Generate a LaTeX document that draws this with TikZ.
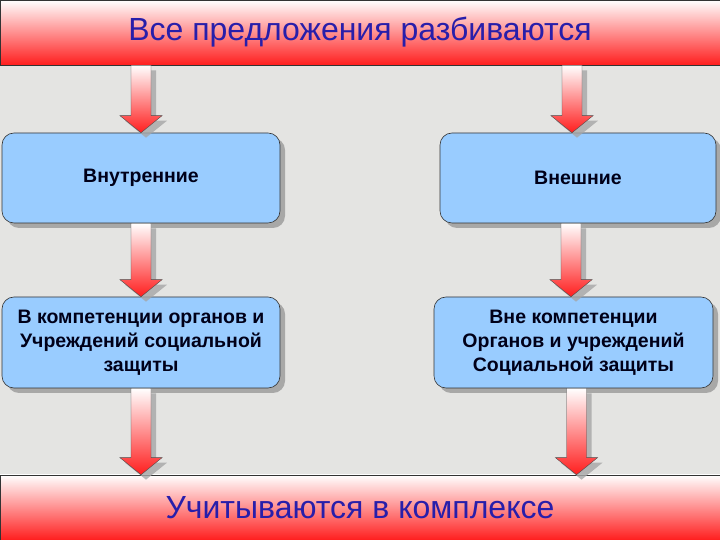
\documentclass[tikz,border=0pt]{standalone}
\usepackage{fontspec}
\setmainfont{Liberation Sans}
\usetikzlibrary{positioning,shadows,calc}

\definecolor{boxblue}{RGB}{153,204,255}
\definecolor{titleblue}{RGB}{40,30,170}
\definecolor{stone}{RGB}{228,228,226}
\definecolor{flame}{RGB}{255,30,30}

\begin{document}
\begin{tikzpicture}[x=1pt,y=1pt]
	\tikzstyle{banner}=[draw=black!80, line width=0.6pt, minimum width=720pt, minimum height=65pt, inner sep=0pt, top color=white, bottom color=flame, text=titleblue, font=\fontsize{32}{36}\selectfont]
	\tikzstyle{block}=[draw=black!80, line width=0.6pt, rounded corners=12pt, fill=boxblue, align=center, inner sep=0pt, text=black!90!blue, font=\bfseries\fontsize{19.5}{24}\selectfont, drop shadow={shadow xshift=5pt, shadow yshift=-5pt, fill=black!40, opacity=0.8}]
	\tikzstyle{flow}=[draw=black!70, line width=0.4pt, top color=white, bottom color=flame, drop shadow={shadow xshift=5pt, shadow yshift=-5pt, fill=black!35, opacity=0.8},
		to path={let \p1=(\tikztostart), \p2=(\tikztotarget) in
			(\x1-10pt,\y1) -- (\x1-10pt,\y2+17pt) -- (\x1-21pt,\y2+17pt) -- (\x1,\y2)
			-- (\x1+21pt,\y2+17pt) -- (\x1+10pt,\y2+17pt) -- (\x1+10pt,\y1) -- cycle}]
	
	\useasboundingbox[fill=stone] (0,0) rectangle (720,540);
	
	\node[banner] (top) at (360,507.5) {Все предложения разбиваются};
	\node[banner] (bottom) at (360,32.5) {Учитываются в комплексе};
	
	\node[block, minimum width=278pt, minimum height=90pt] (in1) at (141,362) {Внутренние};
	\node[block, minimum width=276pt, minimum height=90pt] (ex1) at (578,362) {Внешние};
	\node[block, minimum width=278pt, minimum height=91pt] (in2) at (141,197.5) {В компетенции органов и\\Учреждений социальной\\защиты};
	\node[block, minimum width=279pt, minimum height=91pt] (ex2) at (573.5,197.5) {Вне компетенции\\Органов и учреждений\\Социальной защиты};
	
	% arrows
	\draw[flow] (top.south -| in1.north) to (in1.north);
	\draw[flow] ([xshift=-6pt]top.south -| ex1.north) to (ex1.north);
	\draw[flow] (in1.south) to (in2.north);
	\draw[flow] ([xshift=-7pt]ex1.south) to (ex2.north);
	\draw[flow] (in2.south) to (bottom.north);
	\draw[flow] ([xshift=3pt]ex2.south) to (bottom.north);
\end{tikzpicture}
\end{document}
